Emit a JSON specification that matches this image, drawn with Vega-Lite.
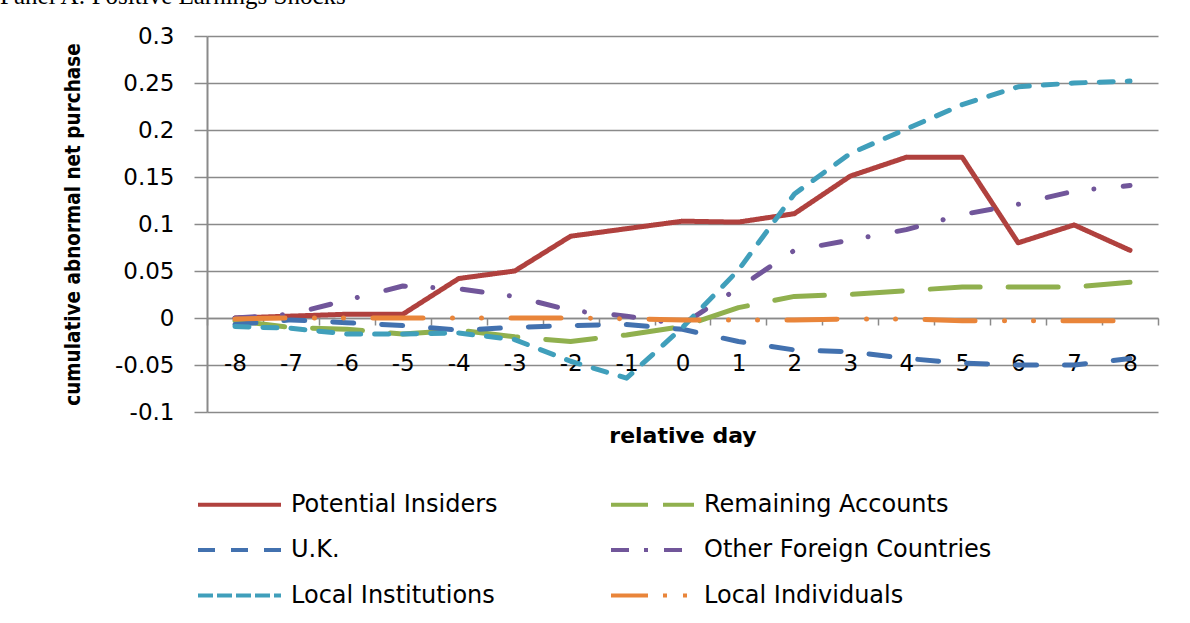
{
  "$schema": "https://vega.github.io/schema/vega-lite/v6.json",
  "width": 951,
  "height": 376,
  "autosize": {"type": "none"},
  "padding": {"left": 207, "top": 36, "right": 32, "bottom": 211},
  "background": "white",
  "title": {
    "text": "Panel A: Positive Earnings Shocks",
    "anchor": "start",
    "frame": "group",
    "orient": "top",
    "offset": -4,
    "dx": -207,
    "baseline": "alphabetic",
    "font": "Liberation Serif",
    "fontSize": 25,
    "fontWeight": "normal",
    "color": "#000000"
  },
  "datasets": {
    "d": [
      {"group": "Potential Insiders", "day": -8, "value": 0.000},
      {"group": "Potential Insiders", "day": -7, "value": 0.002},
      {"group": "Potential Insiders", "day": -6, "value": 0.004},
      {"group": "Potential Insiders", "day": -5, "value": 0.004},
      {"group": "Potential Insiders", "day": -4, "value": 0.042},
      {"group": "Potential Insiders", "day": -3, "value": 0.050},
      {"group": "Potential Insiders", "day": -2, "value": 0.087},
      {"group": "Potential Insiders", "day": -1, "value": 0.095},
      {"group": "Potential Insiders", "day": 0, "value": 0.103},
      {"group": "Potential Insiders", "day": 1, "value": 0.102},
      {"group": "Potential Insiders", "day": 2, "value": 0.111},
      {"group": "Potential Insiders", "day": 3, "value": 0.151},
      {"group": "Potential Insiders", "day": 4, "value": 0.171},
      {"group": "Potential Insiders", "day": 5, "value": 0.171},
      {"group": "Potential Insiders", "day": 6, "value": 0.080},
      {"group": "Potential Insiders", "day": 7, "value": 0.099},
      {"group": "Potential Insiders", "day": 8, "value": 0.072},
      {"group": "Remaining Accounts", "day": -8, "value": -0.003},
      {"group": "Remaining Accounts", "day": -7, "value": -0.010},
      {"group": "Remaining Accounts", "day": -6, "value": -0.012},
      {"group": "Remaining Accounts", "day": -5, "value": -0.017},
      {"group": "Remaining Accounts", "day": -4, "value": -0.013},
      {"group": "Remaining Accounts", "day": -3, "value": -0.020},
      {"group": "Remaining Accounts", "day": -2, "value": -0.025},
      {"group": "Remaining Accounts", "day": -1, "value": -0.018},
      {"group": "Remaining Accounts", "day": 0, "value": -0.009},
      {"group": "Remaining Accounts", "day": 1, "value": 0.011},
      {"group": "Remaining Accounts", "day": 2, "value": 0.023},
      {"group": "Remaining Accounts", "day": 3, "value": 0.025},
      {"group": "Remaining Accounts", "day": 4, "value": 0.029},
      {"group": "Remaining Accounts", "day": 5, "value": 0.033},
      {"group": "Remaining Accounts", "day": 6, "value": 0.033},
      {"group": "Remaining Accounts", "day": 7, "value": 0.033},
      {"group": "Remaining Accounts", "day": 8, "value": 0.038},
      {"group": "U.K.", "day": -8, "value": -0.007},
      {"group": "U.K.", "day": -7, "value": -0.002},
      {"group": "U.K.", "day": -6, "value": -0.005},
      {"group": "U.K.", "day": -5, "value": -0.008},
      {"group": "U.K.", "day": -4, "value": -0.013},
      {"group": "U.K.", "day": -3, "value": -0.010},
      {"group": "U.K.", "day": -2, "value": -0.008},
      {"group": "U.K.", "day": -1, "value": -0.007},
      {"group": "U.K.", "day": 0, "value": -0.012},
      {"group": "U.K.", "day": 1, "value": -0.025},
      {"group": "U.K.", "day": 2, "value": -0.034},
      {"group": "U.K.", "day": 3, "value": -0.036},
      {"group": "U.K.", "day": 4, "value": -0.043},
      {"group": "U.K.", "day": 5, "value": -0.048},
      {"group": "U.K.", "day": 6, "value": -0.050},
      {"group": "U.K.", "day": 7, "value": -0.050},
      {"group": "U.K.", "day": 8, "value": -0.043},
      {"group": "Other Foreign Countries", "day": -8, "value": 0.000},
      {"group": "Other Foreign Countries", "day": -7, "value": 0.004},
      {"group": "Other Foreign Countries", "day": -6, "value": 0.019},
      {"group": "Other Foreign Countries", "day": -5, "value": 0.034},
      {"group": "Other Foreign Countries", "day": -4, "value": 0.031},
      {"group": "Other Foreign Countries", "day": -3, "value": 0.023},
      {"group": "Other Foreign Countries", "day": -2, "value": 0.008},
      {"group": "Other Foreign Countries", "day": -1, "value": 0.002},
      {"group": "Other Foreign Countries", "day": 0, "value": -0.007},
      {"group": "Other Foreign Countries", "day": 1, "value": 0.032},
      {"group": "Other Foreign Countries", "day": 2, "value": 0.072},
      {"group": "Other Foreign Countries", "day": 3, "value": 0.083},
      {"group": "Other Foreign Countries", "day": 4, "value": 0.094},
      {"group": "Other Foreign Countries", "day": 5, "value": 0.110},
      {"group": "Other Foreign Countries", "day": 6, "value": 0.121},
      {"group": "Other Foreign Countries", "day": 7, "value": 0.135},
      {"group": "Other Foreign Countries", "day": 8, "value": 0.141},
      {"group": "Local Institutions", "day": -8, "value": -0.009},
      {"group": "Local Institutions", "day": -7, "value": -0.011},
      {"group": "Local Institutions", "day": -6, "value": -0.017},
      {"group": "Local Institutions", "day": -5, "value": -0.017},
      {"group": "Local Institutions", "day": -4, "value": -0.016},
      {"group": "Local Institutions", "day": -3, "value": -0.023},
      {"group": "Local Institutions", "day": -2, "value": -0.046},
      {"group": "Local Institutions", "day": -1, "value": -0.064},
      {"group": "Local Institutions", "day": 0, "value": -0.010},
      {"group": "Local Institutions", "day": 1, "value": 0.051},
      {"group": "Local Institutions", "day": 2, "value": 0.132},
      {"group": "Local Institutions", "day": 3, "value": 0.175},
      {"group": "Local Institutions", "day": 4, "value": 0.201},
      {"group": "Local Institutions", "day": 5, "value": 0.227},
      {"group": "Local Institutions", "day": 6, "value": 0.246},
      {"group": "Local Institutions", "day": 7, "value": 0.250},
      {"group": "Local Institutions", "day": 8, "value": 0.252},
      {"group": "Local Individuals", "day": -8, "value": -0.001},
      {"group": "Local Individuals", "day": -7, "value": 0.000},
      {"group": "Local Individuals", "day": -6, "value": 0.000},
      {"group": "Local Individuals", "day": -5, "value": 0.000},
      {"group": "Local Individuals", "day": -4, "value": 0.000},
      {"group": "Local Individuals", "day": -3, "value": 0.000},
      {"group": "Local Individuals", "day": -2, "value": 0.000},
      {"group": "Local Individuals", "day": -1, "value": -0.001},
      {"group": "Local Individuals", "day": 0, "value": -0.002},
      {"group": "Local Individuals", "day": 1, "value": -0.002},
      {"group": "Local Individuals", "day": 2, "value": -0.002},
      {"group": "Local Individuals", "day": 3, "value": -0.001},
      {"group": "Local Individuals", "day": 4, "value": -0.001},
      {"group": "Local Individuals", "day": 5, "value": -0.003},
      {"group": "Local Individuals", "day": 6, "value": -0.003},
      {"group": "Local Individuals", "day": 7, "value": -0.003},
      {"group": "Local Individuals", "day": 8, "value": -0.003}
    ]
  },
  "data": {"name": "d"},
  "encoding": {
    "x": {
      "field": "day",
      "type": "ordinal",
      "bandPosition": 0.5,
      "scale": {"type": "band", "paddingInner": 0, "paddingOuter": 0},
      "axis": {
        "title": "relative day",
        "orient": "bottom",
        "offset": -94,
        "labelAngle": 0,
        "labelBaseline": "alphabetic",
        "labelPadding": 45,
        "tickBand": "extent",
        "tickSize": 7,
        "tickColor": "#8a8a8a",
        "tickWidth": 1.5,
        "domain": true,
        "domainColor": "#8a8a8a",
        "domainWidth": 1.5,
        "grid": false,
        "titleFont": "DejaVu Sans",
        "titleFontSize": 22,
        "titleFontWeight": "bold",
        "titleX": 475.5,
        "titleY": 124,
        "titleAlign": "center",
        "titleBaseline": "alphabetic"
      }
    },
    "y": {
      "field": "value",
      "type": "quantitative",
      "scale": {"domain": [-0.1, 0.3], "nice": false, "zero": false},
      "axis": {
        "title": "cumulative abnormal net purchase",
        "values": [-0.1, -0.05, 0, 0.05, 0.1, 0.15, 0.2, 0.25, 0.3],
        "labelExpr": "'' + datum.value",
        "labelPadding": 20,
        "tickSize": 13,
        "tickColor": "#8a8a8a",
        "tickWidth": 1.5,
        "domain": true,
        "domainColor": "#8a8a8a",
        "domainWidth": 2,
        "grid": true,
        "gridColor": "#8a8a8a",
        "gridWidth": 1.5,
        "titleFont": "DejaVu Sans Condensed, Liberation Sans Narrow, DejaVu Sans",
        "titleFontSize": 20.5,
        "titleFontWeight": "bold",
        "titleAngle": -90,
        "titleX": -134,
        "titleY": 188,
        "titleAlign": "center",
        "titleBaseline": "middle"
      }
    }
  },
  "layer": [
    {
      "mark": {"type": "line", "strokeWidth": 5, "strokeCap": "round", "strokeJoin": "round"},
      "encoding": {
        "color": {
          "field": "group",
          "type": "nominal",
          "scale": {
            "domain": ["Potential Insiders", "Remaining Accounts", "U.K.", "Other Foreign Countries", "Local Institutions", "Local Individuals"],
            "range": ["#B0413E", "#90B04E", "#4271AF", "#71569A", "#409FBB", "#E9853A"]
          },
          "legend": null
        },
        "strokeDash": {
          "field": "group",
          "type": "nominal",
          "scale": {
            "domain": ["Potential Insiders", "Remaining Accounts", "U.K.", "Other Foreign Countries", "Local Institutions", "Local Individuals"],
            "range": [[1, 0], [50, 28], [21, 28], [20, 27.5, 0.01, 29.5], [14, 14], [50, 29.5, 0.01, 29, 0.01, 29.5]]
          },
          "legend": null
        }
      }
    },
    {
      "transform": [{"filter": "datum.day > 100"}],
      "mark": {"type": "line", "strokeWidth": 4},
      "encoding": {
        "color": {
          "field": "group",
          "type": "nominal",
          "scale": {
            "domain": ["Potential Insiders", "Remaining Accounts", "U.K.", "Other Foreign Countries", "Local Institutions", "Local Individuals"],
            "range": ["#B0413E", "#90B04E", "#4271AF", "#71569A", "#409FBB", "#E9853A"]
          },
          "legend": {"title": null}
        },
        "strokeDash": {
          "field": "group",
          "type": "nominal",
          "scale": {
            "domain": ["Potential Insiders", "Remaining Accounts", "U.K.", "Other Foreign Countries", "Local Institutions", "Local Individuals"],
            "range": [[1, 0], [37, 15], [17, 16], [18, 15, 4, 16], [15, 4], [37, 15, 4, 16, 4, 15]]
          },
          "legend": {"title": null}
        }
      }
    }
  ],
  "resolve": {
    "scale": {"color": "independent", "strokeDash": "independent"},
    "legend": {"color": "independent", "strokeDash": "independent"}
  },
  "config": {
    "view": {"stroke": null},
    "axis": {
      "labelFont": "DejaVu Sans",
      "labelFontSize": 23,
      "labelColor": "#000000",
      "titleColor": "#000000"
    },
    "legend": {
      "orient": "none",
      "direction": "horizontal",
      "legendX": -11,
      "legendY": 457,
      "columns": 2,
      "columnPadding": 111,
      "rowPadding": 20.5,
      "padding": 0,
      "symbolType": "stroke",
      "symbolSize": 6889,
      "symbolStrokeWidth": 4,
      "clipHeight": 23,
      "labelFont": "DejaVu Sans",
      "labelFontSize": 24,
      "labelColor": "#000000",
      "labelOffset": 8,
      "labelLimit": 500,
      "gridAlign": "each"
    }
  }
}
